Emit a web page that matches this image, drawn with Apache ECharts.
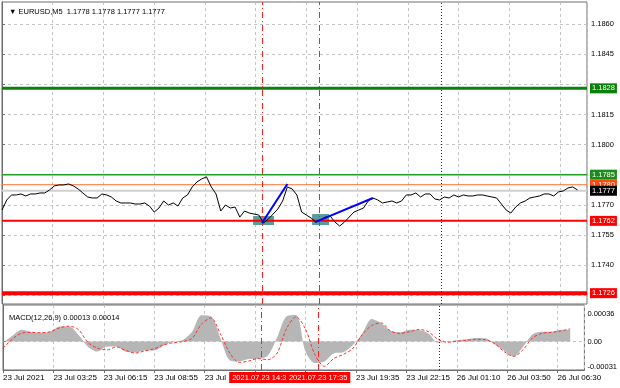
<!DOCTYPE html>
<html><head><meta charset="utf-8">
<script src="https://cdn.jsdelivr.net/npm/echarts@6/dist/echarts.min.js"></script>
<style>html,body{margin:0;padding:0;background:#fff}#c{width:620px;height:388px}</style>
</head><body><div id="c"></div>
<script>
// ---- data (bar index = 5-minute bars from 23 Jul 00:00) ----
const PRICE_STEP = 3;   // bars between price samples
const MACD_STEP = 6;    // bars between MACD samples
const closePrices = [1.17674,1.17724,1.17749,1.17749,1.17754,1.17744,1.17754,1.17754,1.17759,1.17759,
1.17774,1.17794,1.17799,1.17799,1.17804,1.17794,1.17779,1.17759,1.17739,1.17734,
1.17734,1.17754,1.17749,1.17739,1.17719,1.17709,1.17709,1.17709,1.17704,1.17704,
1.17709,1.17694,1.17664,1.17684,1.17719,1.17699,1.17709,1.17694,1.17734,1.17749,
1.17789,1.17814,1.17829,1.17839,1.17789,1.17754,1.17669,1.17699,1.17684,1.17689,
1.17639,1.17669,1.17659,1.17654,1.17649,1.17609,1.17629,1.17654,1.17679,1.17719,
1.17789,1.17779,1.17749,1.17664,1.17649,1.17634,1.17614,1.17624,1.17639,1.17644,
1.17614,1.17594,1.17614,1.17639,1.17664,1.17674,1.17684,1.17719,1.17734,1.17724,
1.17709,1.17714,1.17719,1.17709,1.17719,1.17749,1.17749,1.17759,1.17739,1.17754,
1.17754,1.17729,1.17724,1.17739,1.17734,1.17749,1.17739,1.17749,1.17744,1.17744,
1.17749,1.17749,1.17744,1.17739,1.17734,1.17704,1.17674,1.17659,1.17689,1.17709,
1.17719,1.17734,1.17739,1.17744,1.17754,1.17754,1.17744,1.17764,1.17769,1.17784,
1.17789,1.17774];
const macdMain = [-0.000011,0.000065,0.000130,0.000104,0.000094,0.000108,0.000166,0.000166,0.000072,-0.000058,
-0.000108,-0.000054,-0.000054,-0.000112,-0.000119,-0.000097,-0.000097,-0.000043,0.000000,0.000018,
0.000108,0.000288,0.000277,0.000036,-0.000205,-0.000216,-0.000191,-0.000187,-0.000155,0.000047,
0.000277,0.000292,-0.000108,-0.000234,-0.000216,-0.000126,-0.000115,-0.000036,0.000090,0.000248,
0.000202,0.000119,0.000101,0.000130,0.000126,0.000090,-0.000011,0.000000,0.000014,0.000025,
0.000040,0.000036,-0.000029,-0.000097,-0.000162,-0.000058,0.000079,0.000108,0.000108,0.000130,
0.000130];
const macdSignal = [-0.000072,0.000029,0.000094,0.000101,0.000097,0.000108,0.000151,0.000169,0.000130,-0.000011,
-0.000072,-0.000090,-0.000058,-0.000097,-0.000126,-0.000101,-0.000079,-0.000036,-0.000011,0.000000,
0.000036,0.000191,0.000259,0.000083,-0.000126,-0.000227,-0.000212,-0.000184,-0.000198,-0.000126,
0.000144,0.000270,0.000137,-0.000144,-0.000270,-0.000184,-0.000140,-0.000076,0.000076,0.000176,
0.000205,0.000115,0.000090,0.000108,0.000133,0.000108,0.000025,-0.000007,0.000004,0.000014,
0.000025,0.000022,-0.000022,-0.000108,-0.000162,-0.000090,0.000040,0.000090,0.000101,0.000115,
0.000140];
const LABEL_EVERY = 32;
const timeLabels = ['23 Jul 2021','23 Jul 03:25','23 Jul 06:15','23 Jul 08:55','23 Jul 11:35','','',
  '23 Jul 19:35','23 Jul 22:15','26 Jul 01:10','26 Jul 03:50','26 Jul 06:30'];
const priceGridLevels = [1.1725,1.1740,1.1755,1.1770,1.1785,1.1800,1.1815,1.1830,1.1845,1.1860];
const priceTickLabels = [1.1740,1.1755,1.1770,1.1800,1.1815,1.1845,1.1860];
const macdTickLabels = [-0.00031, 0, 0.00036];
const levelValues = [1.1828, 1.1785, 1.1780, 1.1762, 1.1726, 1.1777];
const markerBars = [164, 200];
const markerTexts = ['2021.07.23 14:35', '2021.07.23 17:35'];
const daySeparatorBar = 277;
const trendLine1 = [[164, 1.17609], [180, 1.17804]];
const trendLine2 = [[197.5, 1.17614], [234, 1.17734]];
const boxes = [[[158.4, 1.17599], [171.6, 1.17644]], [[195.6, 1.17599], [206.3, 1.17654]]];
const quote = ['1.1778', '1.1778', '1.1777', '1.1777'];
const macdNow = ['0.00013', '0.00014'];

// ---- styles ----
const FONT = 'Liberation Sans';
const FS = 7.5;
const FS_TIME = 8;
const levelStyles = [
  {color:'#0a800a', width:3, bg:'#0a800a', fg:'#fff'},
  {color:'#22a022', width:1.5, bg:'#1a8a1a', fg:'#fff'},
  {color:'#ff7030', width:1, bg:'#ff4a10', fg:'#fff'},
  {color:'#ff0000', width:2, bg:'#ff0000', fg:'#fff'},
  {color:'#ff0000', width:4, bg:'#ff0000', fg:'#fff'},
  {color:'#d0d0d0', width:2, bg:'#000000', fg:'#fff'}
];
const X_MAX = 369;
const gridLine = () => ({show:true, lineStyle:{color:'#c4c4c4', type:[3,3], width:1}});
const vLineStyle = () => ({color:'#ff2020', width:1, type:[6,3,1,3], opacity:1});
const sepStyle = () => ({color:'#303030', width:1, type:[1,2], opacity:1});

const chart = echarts.init(document.getElementById('c'));
const priceData = closePrices.map((v,i)=>[i*PRICE_STEP, v]);
const histData = macdMain.map((v,i)=>[i*MACD_STEP, v]);
const sigData = macdSignal.map((v,i)=>[i*MACD_STEP, v]);
const hidden = {width:0, opacity:0};

const levelSeries = levelValues.map((v,i)=>({
  type:'line', xAxisIndex:0, yAxisIndex:0, z:2 + (i===5 ? 0.5 : 0), silent:true, symbol:'none',
  data:[[0, v], [X_MAX, v]],
  lineStyle:{color:levelStyles[i].color, width:levelStyles[i].width},
  endLabel:{show:true, distance:3, formatter:v.toFixed(4),
    backgroundColor:levelStyles[i].bg, color:levelStyles[i].fg, padding:[1,2,1,2],
    fontSize:FS, fontFamily:FONT}
}));

function vline(panel, bar, style, labelText) {
  return {type:'line', xAxisIndex:panel, yAxisIndex:panel, data:panel===0 ? priceData : sigData,
    z:7, silent:true, symbol:'none', lineStyle:hidden,
    markLine:{silent:true, symbol:['none','none'], lineStyle:style,
      label: labelText ? {show:true, position:'start', distance:2, formatter:labelText,
        backgroundColor:'#ff0000', color:'#fff', padding:[2,3,1,3], fontSize:FS, fontFamily:FONT}
        : {show:false},
      data:[{xAxis:bar}]}};
}
const vSeries = [];
markerBars.forEach((b,i)=>{ vSeries.push(vline(0,b,vLineStyle())); vSeries.push(vline(1,b,vLineStyle(),markerTexts[i])); });
vSeries.push(vline(0,daySeparatorBar,sepStyle()));
vSeries.push(vline(1,daySeparatorBar,sepStyle()));

chart.setOption({
  animation:false,
  backgroundColor:'#ffffff',
  textStyle:{fontFamily:FONT},
  title:[
    {text:'▼ EURUSD,M5  ' + quote.join(' '), left:4, top:3,
     textStyle:{fontSize:FS, fontWeight:'normal', color:'#000', fontFamily:FONT}},
    {text:'MACD(12,26,9) ' + macdNow.join(' '), left:4, top:309,
     textStyle:{fontSize:FS, fontWeight:'normal', color:'#000', fontFamily:FONT}}
  ],
  grid:[
    {left:2, top:2, right:33, height:302, show:true, borderColor:'#6e6e6e', borderWidth:1},
    {left:2, top:305, right:33, height:65, show:true, borderColor:'#6e6e6e', borderWidth:1}
  ],
  xAxis:[
    {type:'value', gridIndex:0, min:0, max:X_MAX, interval:LABEL_EVERY,
     axisLine:{show:false}, axisTick:{show:false}, axisLabel:{show:false}, splitLine:gridLine()},
    {type:'value', gridIndex:1, min:0, max:X_MAX, interval:LABEL_EVERY,
     axisLine:{show:true, onZero:false, lineStyle:{color:'#6e6e6e'}},
     axisTick:{show:true, length:3, lineStyle:{color:'#6e6e6e'}},
     axisLabel:{show:true, align:'left', margin:4, fontSize:FS_TIME, color:'#000', fontFamily:FONT,
       showMaxLabel:false,
       formatter:(v)=>{const i=Math.round(v/LABEL_EVERY); return (Math.abs(i*LABEL_EVERY-v)<1e-6 && timeLabels[i]) ? timeLabels[i] : '';}},
     splitLine:gridLine()}
  ],
  yAxis:[
    {type:'value', gridIndex:0, position:'right', min:1.17206, max:1.18710, scale:true,
     axisLine:{show:true, lineStyle:{color:'#6e6e6e'}},
     axisTick:{show:true, length:3, customValues:priceGridLevels, lineStyle:{color:'#6e6e6e'}},
     axisLabel:{customValues:priceTickLabels, formatter:(v)=>v.toFixed(4), fontSize:FS, color:'#000', margin:4, fontFamily:FONT},
     splitLine:gridLine()},
    {type:'value', gridIndex:1, position:'right', min:-0.00031, max:0.0004,
     axisLine:{show:true, lineStyle:{color:'#6e6e6e'}},
     axisTick:{show:true, length:3, customValues:[0], lineStyle:{color:'#6e6e6e'}},
     axisLabel:{customValues:macdTickLabels, fontSize:FS, color:'#000', margin:3, fontFamily:FONT,
       formatter:(v)=> v>0 ? '{t|'+v.toFixed(5)+'}' : (v<0 ? '{b|'+v.toFixed(5)+'}' : '0.00'),
       rich:{t:{padding:[10,0,0,0], fontSize:FS, fontFamily:FONT, color:'#000'},
             b:{padding:[0,0,6,0], fontSize:FS, fontFamily:FONT, color:'#000'}}},
     splitLine:gridLine()}
  ],
  series:[
    {type:'line', xAxisIndex:0, yAxisIndex:0, data:priceData, z:1, silent:true, symbol:'none', lineStyle:hidden,
     markArea:{silent:true, itemStyle:{color:'#5a9c9c'},
       data: boxes.map(b=>[{coord:b[0]},{coord:b[1]}])}},
    ...levelSeries,
    {type:'line', name:'EURUSD', xAxisIndex:0, yAxisIndex:0, data:priceData, z:5,
     symbol:'none', lineStyle:{color:'#000', width:1}},
    {type:'line', xAxisIndex:0, yAxisIndex:0, data:trendLine1, z:6, symbol:'none',
     lineStyle:{color:'#0000ff', width:2}},
    {type:'line', xAxisIndex:0, yAxisIndex:0, data:trendLine2, z:6, symbol:'none',
     lineStyle:{color:'#0000ff', width:2}},
    {type:'line', name:'MACD', xAxisIndex:1, yAxisIndex:1, data:histData, z:2, symbol:'none',
     smooth:0.3, lineStyle:{width:0, color:'#b6b6b6'}, areaStyle:{color:'#b6b6b6', opacity:1}},
    {type:'line', name:'Signal', xAxisIndex:1, yAxisIndex:1, data:sigData, z:4, symbol:'none',
     smooth:0.3, lineStyle:{color:'#ff3030', width:1, type:[3,2]}},
    ...vSeries
  ]
});
</script></body></html>
